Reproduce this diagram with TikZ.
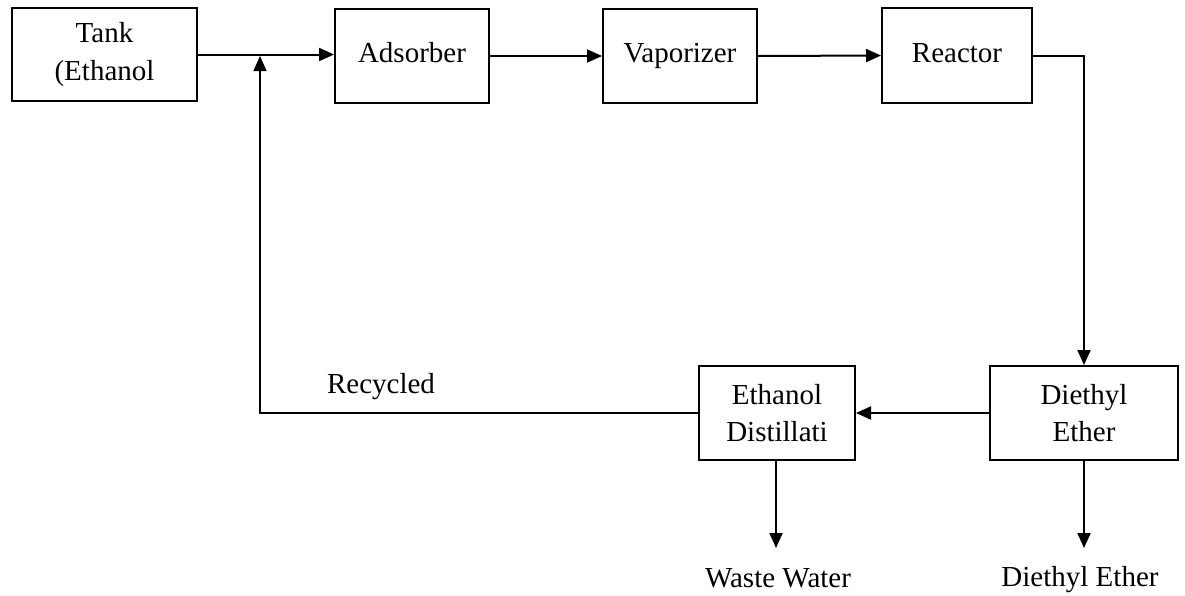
\documentclass[tikz,border=0pt]{standalone}
\usepackage{fontspec}
\setmainfont{Liberation Serif}
\usetikzlibrary{arrows.meta}
\begin{document}
\begin{tikzpicture}[x=1pt,y=-1pt,
  font=\fontsize{29}{37.5}\selectfont,
  box/.style={draw,line width=2pt,inner sep=0pt,align=center},
  onebox/.style={box,text height=19pt,text depth=6pt},
  flow/.style={line width=2pt,-{Triangle[length=15pt,width=13pt]}},
  lbl/.style={inner sep=0pt}]
\useasboundingbox (0,0) rectangle (1185,595);
\node[box,minimum width=185pt,minimum height=93pt] (tank) at (104.5,54.5) {Tank\\(Ethanol};
\node[onebox,minimum width=154pt,minimum height=94pt] (ads) at (412,56) {Adsorber};
\node[onebox,minimum width=154pt,minimum height=94pt] (vap) at (680,56) {Vaporizer};
\node[onebox,minimum width=150pt,minimum height=95pt] (reac) at (957,55.5) {Reactor};
\node[box,minimum width=156pt,minimum height=94pt] (dist) at (777,413) {Ethanol\\Distillati};
\node[box,minimum width=188pt,minimum height=94pt] (dee) at (1084,413) {Diethyl\\Ether};
\node[lbl] (ww) at (778,578) {Waste Water};
\node[lbl] (de) at (1080,580) {Diethyl Ether};
\node[lbl] (rec) at (381,387) {Recycled};
\coordinate (junc) at (260,56);
\coordinate (wwtip) at (776,548);
\coordinate (detip) at (1084,548);
\draw[flow] (tank.east) -- (tank.east -| ads.west);
\draw[flow] (ads.east) -- (vap.west);
\draw[flow] (vap.east) -- (reac.west);
\draw[flow] (reac.east) -| (dee.north);
\draw[flow] (dee.west) -- (dist.east);
\draw[flow] (dist.south -| wwtip) -- (wwtip);
\draw[flow] (dee.south) -- (detip);
\draw[line width=1.3pt,-{Triangle[length=15pt,width=13pt]}] (dist.west) -| (junc);
\end{tikzpicture}
\end{document}
